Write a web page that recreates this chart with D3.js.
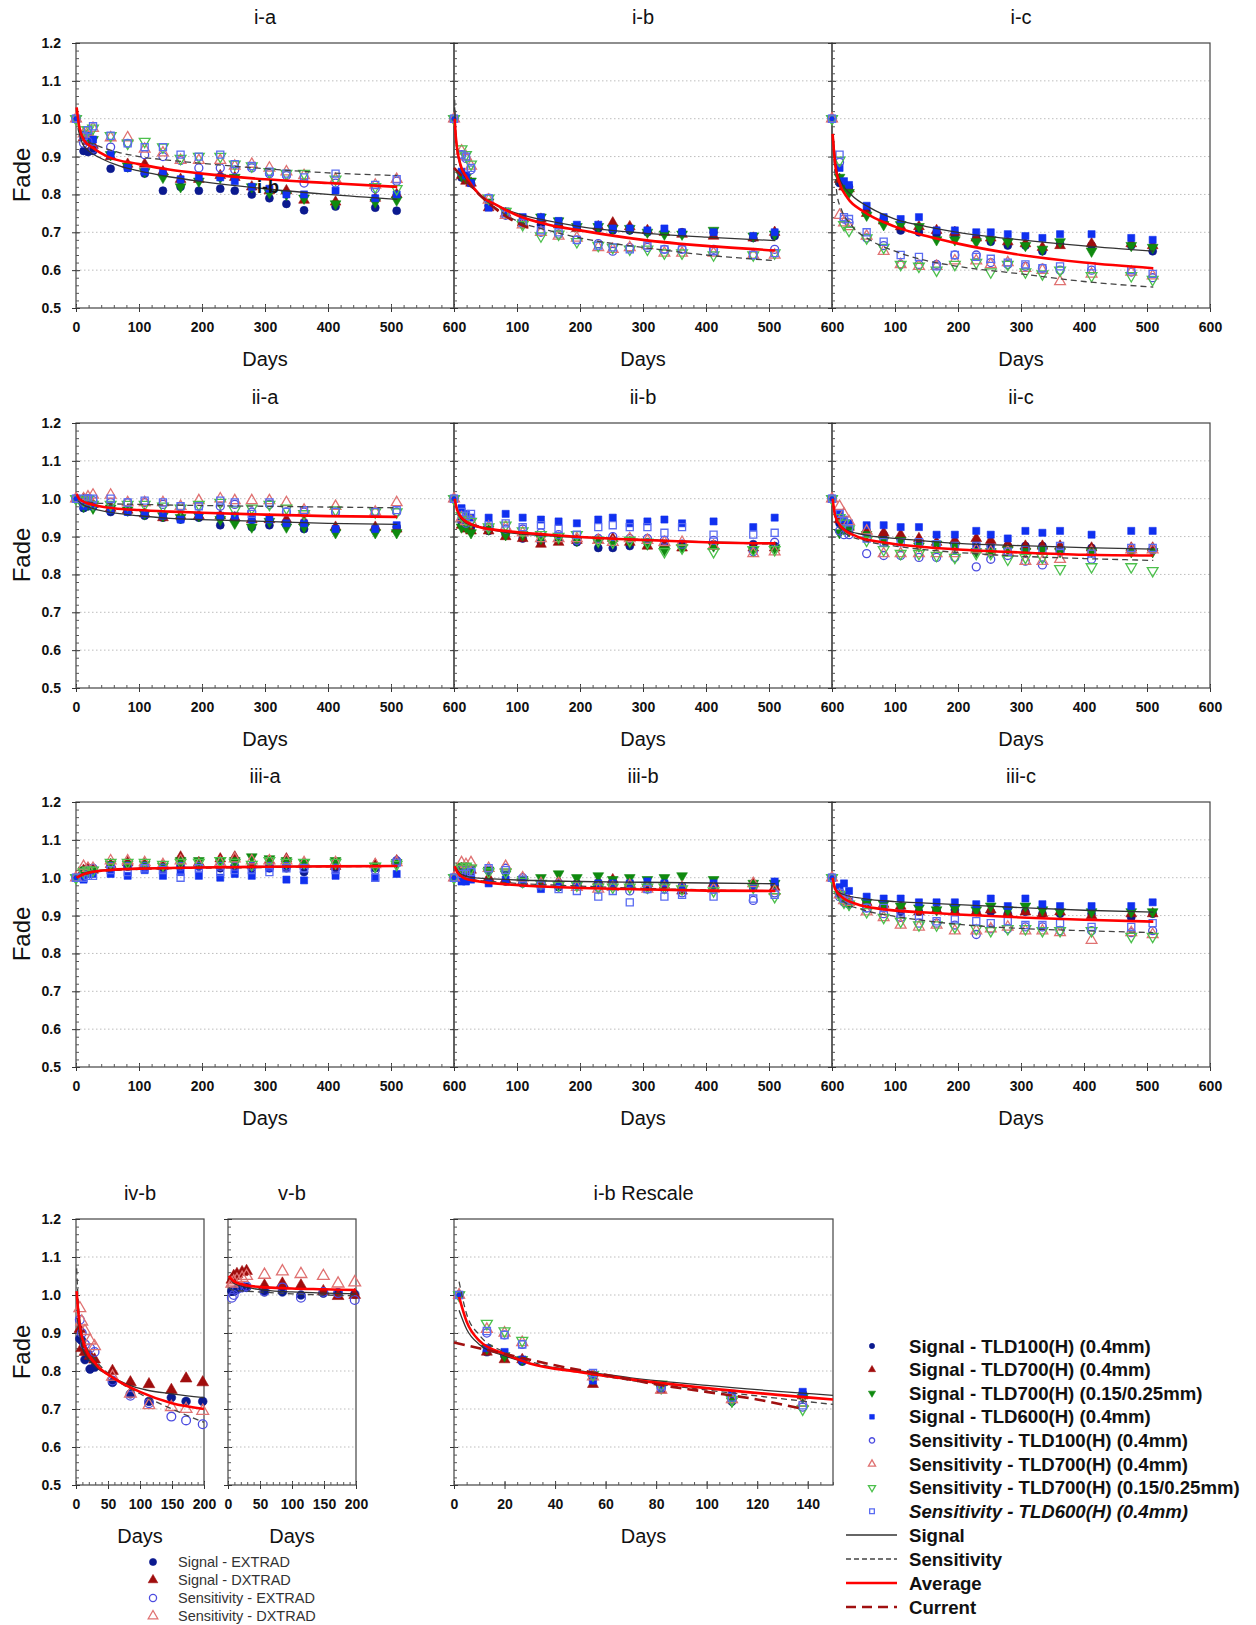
<!DOCTYPE html>
<html>
<head>
<meta charset="utf-8">
<script src="https://cdn.jsdelivr.net/npm/d3@7"></script>
<style>
  body { margin: 0; background: #fff; }
  svg { display: block; font-family: "Liberation Sans", Arial, sans-serif; }
</style>
</head>
<body>
<div id="chart"></div>
<script>
// 1: DATA
const days = [0, 12, 19, 27, 55, 82, 109, 138, 166, 195, 229, 252, 279, 307, 334, 362, 412, 475, 509];
const daysShort = [6, 9, 14, 22, 29, 57, 85, 114, 149, 172, 198];
const daysRescale = [2, 13, 20, 27, 55, 82, 110, 138];

// i-a
const ia_s100  = [1.0,.915,.912,.915,.868,.87,.855,.81,.82,.81,.815,.81,.80,.79,.775,.758,.768,.765,.757];
const ia_s700  = [1.0,.95,.94,.93,.90,.88,.88,.86,.84,.84,.85,.845,.82,.81,.81,.785,.78,.79,.80];
const ia_s700t = [1.0,.96,.95,.945,.905,.875,.86,.845,.82,.835,.845,.845,.82,.805,.80,.79,.775,.78,.785];
const ia_s600  = [1.0,.955,.955,.945,.905,.87,.86,.86,.84,.845,.845,.835,.82,.815,.80,.80,.81,.79,.80];
const ia_e100  = [1.0,.935,.94,.92,.925,.935,.905,.90,.89,.87,.87,.865,.87,.855,.85,.83,.83,.815,.835];
const ia_e700  = [1.0,.96,.965,.975,.95,.95,.92,.91,.89,.89,.89,.875,.88,.87,.86,.85,.84,.825,.84];
const ia_e700t = [1.0,.97,.97,.975,.955,.935,.94,.925,.895,.90,.90,.88,.875,.86,.855,.855,.84,.82,.815];
const ia_e600  = [1.0,.955,.97,.98,.955,.935,.925,.925,.905,.90,.905,.88,.875,.86,.855,.845,.855,.825,.84];
const ia_fitSig  = [[3,.975],[10,.935],[20,.915],[40,.895],[70,.875],[100,.862],[150,.846],[200,.834],[300,.815],[400,.80],[510,.787]];
const ia_fitSens = [[3,.985],[10,.955],[20,.94],[40,.925],[70,.91],[100,.90],[150,.89],[200,.882],[300,.868],[400,.857],[510,.85]];
const ia_fitAvg  = [[1,1.03],[5,.98],[12,.945],[25,.925],[50,.90],[100,.88],[150,.865],[200,.855],[300,.84],[400,.83],[510,.82]];

// i-b
const ib_s100  = [1.0,.845,.84,.83,.77,.75,.725,.72,.72,.715,.71,.705,.705,.70,.70,.70,.70,.685,.69];
const ib_s700  = [1.0,.85,.835,.83,.765,.75,.725,.735,.72,.71,.715,.725,.715,.705,.70,.695,.69,.685,.70];
const ib_s700t = [1.0,.85,.845,.835,.78,.755,.725,.74,.73,.715,.715,.71,.71,.70,.695,.695,.705,.69,.695];
const ib_s600  = [1.0,.86,.85,.83,.765,.755,.74,.74,.73,.72,.72,.71,.71,.705,.71,.70,.70,.69,.70];
const ib_e100  = [1.0,.905,.895,.865,.79,.745,.725,.70,.695,.68,.67,.65,.66,.66,.655,.655,.655,.64,.655];
const ib_e700  = [1.0,.915,.90,.875,.785,.745,.72,.70,.69,.685,.66,.655,.66,.665,.645,.645,.645,.64,.64];
const ib_e700t = [1.0,.92,.905,.88,.79,.755,.72,.69,.695,.675,.665,.66,.655,.655,.645,.645,.64,.64,.645];
const ib_e600  = [1.0,.905,.90,.87,.79,.75,.725,.705,.70,.68,.665,.66,.655,.665,.655,.655,.65,.64,.645];
const ib_fitSig  = [[1,1.03],[3,.95],[10,.875],[20,.84],[40,.80],[70,.77],[100,.75],[150,.73],[200,.715],[300,.698],[400,.687],[510,.678]];
const ib_fitSens = [[1,1.05],[3,.96],[10,.88],[20,.84],[40,.80],[70,.76],[100,.73],[150,.705],[200,.685],[300,.66],[400,.64],[510,.625]];
const ib_fitAvg  = [[1,1.0],[3,.95],[10,.88],[20,.845],[40,.80],[70,.77],[100,.745],[150,.72],[200,.705],[300,.68],[400,.664],[510,.652]];
const ib_fitCur  = [[0,.87],[20,.835],[40,.80],[60,.77],[80,.745],[100,.725],[122,.71]];

// i-c
const ic_s100  = [1.0,.83,.825,.82,.755,.735,.705,.70,.695,.69,.685,.675,.665,.665,.65,.67,.665,.665,.65];
const ic_s700  = [1.0,.84,.82,.815,.75,.73,.715,.715,.705,.70,.685,.685,.675,.67,.66,.665,.67,.67,.665];
const ic_s700t = [1.0,.845,.82,.805,.745,.72,.72,.715,.68,.68,.675,.68,.675,.665,.655,.675,.65,.665,.66];
const ic_s600  = [1.0,.87,.835,.825,.77,.74,.735,.74,.705,.705,.70,.70,.695,.69,.685,.695,.695,.685,.68];
const ic_e100  = [1.0,.885,.735,.725,.685,.665,.615,.615,.615,.64,.64,.62,.615,.61,.605,.60,.60,.595,.58];
const ic_e700  = [1.0,.745,.725,.715,.69,.65,.615,.61,.61,.625,.625,.615,.62,.605,.60,.57,.59,.595,.585];
const ic_e700t = [1.0,.89,.72,.705,.685,.66,.615,.61,.60,.615,.62,.595,.615,.595,.59,.60,.585,.585,.575];
const ic_e600  = [1.0,.905,.74,.735,.70,.675,.64,.635,.61,.64,.635,.63,.62,.615,.605,.61,.61,.60,.59];
const ic_fitSig  = [[2,.95],[8,.86],[15,.83],[30,.80],[60,.765],[100,.735],[150,.715],[200,.70],[300,.68],[400,.664],[510,.65]];
const ic_fitSens = [[2,.92],[8,.80],[15,.76],[30,.72],[60,.68],[100,.65],[150,.625],[200,.61],[300,.59],[400,.57],[510,.555]];
const ic_fitAvg  = [[1,.96],[5,.88],[12,.83],[25,.79],[50,.755],[100,.715],[150,.69],[200,.67],[300,.64],[400,.62],[510,.605]];

// ii-a
const iia_s100  = [1.0,.975,.98,.98,.965,.965,.955,.95,.945,.95,.93,.945,.925,.93,.935,.92,.92,.92,.925];
const iia_s700  = [1.0,1.0,.995,.985,.975,.97,.96,.95,.955,.955,.955,.95,.945,.945,.945,.94,.925,.925,.92];
const iia_s700t = [1.0,.98,.985,.975,.975,.97,.96,.955,.95,.955,.945,.935,.925,.94,.925,.925,.91,.91,.91];
const iia_s600  = [1.0,.98,.985,.98,.97,.965,.96,.955,.945,.955,.955,.955,.945,.945,.935,.935,.92,.92,.93];
const iia_e100  = [1.0,.99,1.0,.995,.99,.99,.99,.985,.98,.98,.98,.985,.965,.985,.965,.965,.965,.965,.965];
const iia_e700  = [1.0,1.0,1.005,1.01,1.01,.99,.99,.99,.98,.995,1.0,.995,.995,.995,.99,.97,.98,.965,.99];
const iia_e700t = [1.0,.995,1.0,.985,.985,.985,.985,.98,.975,.985,.99,.97,.975,.985,.975,.96,.97,.965,.965];
const iia_e600  = [1.0,1.0,1.0,1.0,1.0,.99,.995,.99,.98,.98,.995,.99,.96,.99,.965,.97,.965,.965,.97];
const iia_fitSig  = [[3,.995],[10,.985],[25,.975],[50,.965],[100,.955],[150,.948],[200,.945],[300,.94],[400,.935],[510,.932]];
const iia_fitSens = [[3,1.0],[10,.995],[25,.99],[50,.987],[100,.985],[200,.982],[300,.98],[400,.978],[510,.976]];
const iia_fitAvg  = [[1,1.012],[5,1.0],[15,.99],[30,.983],[60,.975],[100,.97],[150,.966],[200,.963],[300,.958],[400,.954],[510,.952]];

// ii-b
const iib_s100  = [1.0,.94,.935,.925,.915,.905,.895,.885,.89,.885,.87,.87,.875,.885,.875,.88,.88,.88,.875];
const iib_s700  = [1.0,.93,.92,.915,.915,.90,.895,.88,.885,.89,.89,.895,.885,.875,.875,.87,.875,.87,.87];
const iib_s700t = [1.0,.925,.925,.91,.92,.905,.905,.895,.895,.89,.885,.885,.885,.88,.865,.87,.875,.865,.87];
const iib_s600  = [1.0,.975,.96,.95,.95,.96,.95,.945,.94,.935,.945,.95,.935,.94,.945,.935,.94,.925,.95];
const iib_e100  = [1.0,.945,.935,.945,.925,.92,.92,.91,.905,.89,.895,.90,.895,.895,.89,.88,.89,.86,.885];
const iib_e700  = [1.0,.95,.94,.94,.925,.925,.91,.895,.895,.895,.89,.885,.895,.89,.885,.885,.875,.855,.86];
const iib_e700t = [1.0,.955,.945,.94,.925,.93,.915,.905,.90,.905,.89,.885,.89,.885,.86,.87,.86,.865,.865];
const iib_e600  = [1.0,.965,.955,.96,.93,.935,.925,.93,.92,.905,.925,.93,.925,.925,.91,.925,.905,.905,.91];
const iib_fitSig  = [[2,.99],[8,.955],[20,.935],[40,.925],[80,.912],[150,.902],[200,.898],[300,.892],[400,.886],[510,.882]];
const iib_fitSens = [[2,.99],[8,.96],[20,.94],[40,.928],[80,.915],[150,.905],[200,.90],[300,.892],[400,.885],[510,.88]];
const iib_fitAvg  = [[1,1.0],[5,.97],[15,.945],[40,.925],[80,.915],[150,.905],[200,.899],[300,.891],[400,.885],[510,.882]];

// ii-c
const iic_s100  = [1.0,.935,.93,.92,.915,.905,.895,.885,.88,.875,.88,.875,.875,.875,.875,.87,.87,.865,.865];
const iic_s700  = [1.0,.945,.93,.925,.915,.91,.905,.895,.885,.89,.895,.89,.88,.875,.875,.875,.87,.87,.87];
const iic_s700t = [1.0,.91,.92,.915,.905,.89,.89,.875,.88,.875,.86,.86,.865,.86,.865,.86,.86,.86,.86];
const iic_s600  = [1.0,.96,.945,.935,.93,.93,.925,.925,.905,.905,.915,.905,.895,.915,.91,.915,.905,.915,.915];
const iic_e100  = [1.0,.915,.905,.905,.855,.85,.85,.845,.845,.845,.82,.84,.85,.835,.825,.86,.84,.86,.865];
const iic_e700  = [1.0,.98,.96,.94,.915,.855,.855,.855,.855,.855,.865,.86,.86,.835,.835,.84,.86,.865,.865];
const iic_e700t = [1.0,.95,.935,.92,.89,.865,.855,.855,.85,.845,.855,.855,.84,.845,.845,.815,.82,.82,.81];
const iic_e600  = [1.0,.96,.94,.92,.895,.885,.885,.885,.88,.875,.875,.87,.86,.865,.865,.875,.855,.87,.87];
const iic_fitSig  = [[2,.985],[8,.94],[20,.92],[50,.905],[100,.895],[150,.888],[200,.882],[300,.876],[400,.871],[510,.867]];
const iic_fitSens = [[2,.98],[8,.935],[20,.91],[50,.89],[100,.875],[150,.865],[200,.858],[300,.848],[400,.842],[510,.837]];
const iic_fitAvg  = [[1,1.0],[5,.955],[15,.925],[40,.90],[80,.885],[150,.872],[200,.866],[300,.858],[400,.852],[510,.85]];

// iii-a
const iiia_s100  = [1.0,1.02,1.025,1.025,1.03,1.03,1.025,1.025,1.03,1.03,1.025,1.03,1.025,1.025,1.025,1.015,1.025,1.025,1.045];
const iiia_s700  = [1.0,1.02,1.025,1.02,1.035,1.04,1.035,1.03,1.055,1.04,1.05,1.055,1.035,1.045,1.05,1.035,1.03,1.035,1.045];
const iiia_s700t = [1.0,1.02,1.02,1.02,1.035,1.035,1.035,1.03,1.045,1.045,1.045,1.045,1.055,1.05,1.045,1.04,1.045,1.03,1.04];
const iiia_s600  = [1.0,.995,1.01,1.01,1.01,1.005,1.02,1.005,1.015,1.005,1.0,1.01,1.005,1.025,.995,.993,1.005,1.0,1.01];
const iiia_e100  = [1.0,1.015,1.02,1.025,1.03,1.03,1.03,1.025,1.03,1.03,1.03,1.03,1.03,1.03,1.03,1.025,1.025,1.02,1.045];
const iiia_e700  = [1.0,1.03,1.025,1.025,1.045,1.045,1.04,1.035,1.045,1.035,1.04,1.05,1.045,1.045,1.045,1.04,1.04,1.035,1.04];
const iiia_e700t = [1.0,1.015,1.02,1.02,1.04,1.04,1.04,1.035,1.04,1.04,1.045,1.04,1.035,1.045,1.04,1.04,1.04,1.03,1.035];
const iiia_e600  = [1.0,1.0,1.005,1.005,1.02,1.015,1.025,1.02,1.0,1.025,1.015,1.02,1.02,1.015,1.025,1.025,1.02,1.0,1.04];
const iiia_fitSig  = [[1,1.0],[10,1.01],[30,1.018],[60,1.022],[100,1.025],[200,1.028],[300,1.03],[400,1.031],[510,1.032]];
const iiia_fitSens = [[1,1.0],[10,1.006],[30,1.014],[60,1.019],[100,1.022],[200,1.025],[300,1.027],[400,1.029],[510,1.03]];
const iiia_fitAvg  = [[1,1.0],[10,1.008],[25,1.015],[50,1.02],[100,1.024],[200,1.027],[300,1.029],[400,1.03],[510,1.031]];

// iii-b
const iiib_s100  = [1.0,1.005,1.0,1.0,.99,.99,.985,.975,.975,.985,.985,.985,.985,.975,.985,.975,.98,.975,.98];
const iiib_s700  = [1.0,1.025,1.025,1.02,1.0,.995,.99,.99,.99,.985,.99,.995,.985,.985,.98,.965,.985,.985,.975];
const iiib_s700t = [1.0,1.03,1.025,1.025,1.02,1.01,.995,1.0,1.01,1.0,1.005,.995,1.0,.995,1.0,1.005,.995,.985,.985];
const iiib_s600  = [1.0,.99,.99,.995,.985,.995,.99,.97,.98,.98,.985,.985,.985,.99,.985,.975,.985,.975,.99];
const iiib_e100  = [1.0,1.02,1.02,1.02,1.02,1.025,1.0,.985,.985,.98,.975,.98,.965,.97,.97,.96,.97,.94,.96];
const iiib_e700  = [1.0,1.04,1.035,1.04,1.025,1.03,1.0,.985,.985,.975,.97,.975,.98,.97,.975,.975,.97,.985,.965];
const iiib_e700t = [1.0,1.025,1.03,1.025,1.015,1.015,.99,.985,.98,.98,.975,.975,.975,.975,.975,.97,.965,.975,.95];
const iiib_e600  = [1.0,1.01,1.01,1.015,1.025,1.02,.995,.98,.97,.965,.95,.965,.935,.97,.95,.955,.95,.945,.955];
const iiib_fitSig  = [[2,1.03],[10,1.01],[30,1.0],[60,.997],[100,.994],[200,.99],[300,.988],[400,.986],[510,.984]];
const iiib_fitSens = [[2,1.025],[10,1.005],[30,.995],[60,.99],[100,.985],[200,.978],[300,.972],[400,.968],[510,.964]];
const iiib_fitAvg  = [[1,1.03],[5,1.015],[15,1.0],[40,.99],[80,.983],[150,.976],[200,.973],[300,.969],[400,.966],[510,.965]];

// iii-c
const iiic_s100  = [1.0,.96,.945,.935,.935,.925,.91,.91,.915,.915,.91,.91,.905,.91,.905,.905,.905,.895,.905];
const iiic_s700  = [1.0,.965,.95,.94,.935,.93,.925,.91,.915,.91,.91,.915,.905,.91,.905,.91,.90,.905,.905];
const iiic_s700t = [1.0,.955,.94,.93,.935,.93,.925,.92,.915,.92,.915,.925,.915,.925,.915,.91,.91,.91,.91];
const iiic_s600  = [1.0,.975,.985,.965,.95,.945,.945,.935,.935,.935,.93,.945,.925,.945,.93,.925,.925,.925,.935];
const iiic_e100  = [1.0,.95,.935,.93,.92,.905,.895,.88,.88,.875,.85,.865,.865,.87,.87,.86,.86,.855,.86];
const iiic_e700  = [1.0,.955,.94,.935,.91,.895,.875,.87,.875,.86,.86,.865,.87,.86,.86,.855,.835,.855,.85];
const iiic_e700t = [1.0,.955,.935,.93,.91,.895,.885,.875,.875,.87,.865,.86,.865,.865,.86,.86,.86,.845,.845];
const iiic_e600  = [1.0,.96,.945,.94,.92,.92,.905,.90,.885,.89,.885,.88,.885,.875,.875,.88,.87,.87,.88];
const iiic_fitSig  = [[2,.99],[8,.965],[20,.955],[50,.945],[100,.937],[150,.933],[200,.929],[300,.921],[400,.914],[510,.909]];
const iiic_fitSens = [[2,.985],[8,.955],[20,.935],[50,.915],[100,.898],[150,.886],[200,.877],[300,.866],[400,.86],[510,.855]];
const iiic_fitAvg  = [[1,1.0],[5,.97],[15,.95],[40,.93],[80,.917],[150,.908],[200,.903],[300,.895],[400,.889],[510,.884]];

// iv-b (EXTRAD / DXTRAD)
const ivb_sigEx  = [.885,.88,.83,.805,.81,.77,.74,.72,.73,.72,.72];
const ivb_sigDx  = [.91,.86,.85,.84,.83,.80,.77,.765,.75,.78,.77];
const ivb_sensEx = [.935,.90,.87,.86,.85,.775,.735,.715,.68,.67,.66];
const ivb_sensDx = [.965,.93,.905,.88,.865,.785,.74,.71,.705,.70,.695];
const ivb_fitSig  = [[2,.94],[10,.86],[25,.82],[50,.79],[80,.765],[110,.75],[150,.74],[200,.73]];
const ivb_fitSens = [[1,1.07],[5,.95],[15,.87],[30,.83],[60,.78],[100,.74],[150,.70],[200,.665]];
const ivb_fitAvg  = [[1,1.01],[5,.93],[15,.86],[30,.82],[60,.78],[100,.745],[150,.715],[200,.70]];

// v-b
const vb_sigEx  = [1.01,1.01,1.015,1.02,1.02,1.008,1.008,1.0,1.005,1.005,1.002];
const vb_sigDx  = [1.04,1.05,1.055,1.06,1.063,1.025,1.03,1.025,1.01,.997,1.0];
const vb_sensEx = [.993,1.0,1.015,1.02,1.023,1.01,1.02,.993,1.008,1.005,.987];
const vb_sensDx = [1.03,1.035,1.04,1.045,1.05,1.053,1.062,1.055,1.05,1.03,1.033];
const vb_fitSig  = [[1,1.05],[10,1.03],[30,1.02],[60,1.012],[100,1.008],[150,1.005],[200,1.003]];
const vb_fitSens = [[1,1.02],[10,1.012],[30,1.01],[60,1.007],[100,1.003],[150,1.0],[200,.998]];
const vb_fitAvg  = [[1,1.05],[10,1.035],[30,1.025],[60,1.02],[100,1.017],[150,1.015],[200,1.013]];

// i-b Rescale
const rs_s100  = [1.0,.85,.84,.825,.78,.755,.72,.74];
const rs_s700  = [1.0,.85,.83,.83,.765,.75,.725,.735];
const rs_s700t = [1.0,.86,.84,.83,.78,.755,.72,.73];
const rs_s600  = [1.0,.86,.85,.83,.775,.76,.74,.745];
const rs_e100  = [1.0,.90,.895,.87,.79,.755,.725,.705];
const rs_e700  = [1.0,.91,.90,.875,.785,.75,.725,.715];
const rs_e700t = [1.0,.925,.905,.88,.79,.765,.725,.70];
const rs_e600  = [1.0,.905,.895,.87,.795,.76,.73,.71];
const rs_fitSig  = [[2,.96],[5,.91],[10,.87],[20,.84],[30,.82],[50,.80],[70,.782],[100,.762],[150,.736]];
const rs_fitSens = [[2,1.035],[5,.95],[10,.895],[20,.85],[30,.825],[50,.797],[70,.775],[100,.75],[150,.712]];
const rs_fitAvg  = [[2,.995],[5,.93],[10,.88],[20,.845],[30,.82],[50,.797],[70,.778],[100,.755],[150,.725]];
const rs_fitCur  = [[0,.875],[20,.845],[40,.815],[60,.79],[80,.765],[100,.745],[120,.725],[138,.70]];

const legendTLD = ["Signal - TLD100(H) (0.4mm)", "Signal - TLD700(H) (0.4mm)", "Signal - TLD700(H) (0.15/0.25mm)",
  "Signal - TLD600(H) (0.4mm)", "Sensitivity - TLD100(H) (0.4mm)", "Sensitivity - TLD700(H) (0.4mm)",
  "Sensitivity - TLD700(H) (0.15/0.25mm)", "Sensitivity - TLD600(H) (0.4mm)"];
const legendLines = ["Signal", "Sensitivity", "Average", "Current"];
const legendXtrad = ["Signal - EXTRAD", "Signal - DXTRAD", "Sensitivity - EXTRAD", "Sensitivity - DXTRAD"];
const yTicks = [0.5, 0.6, 0.7, 0.8, 0.9, 1.0, 1.1, 1.2];

// 2: STYLES
const tldStyle = [
  { shape: "circle", color: "#0b1a8f", open: false },
  { shape: "up",     color: "#a00d0d", open: false },
  { shape: "down",   color: "#0f8a0f", open: false },
  { shape: "square", color: "#1030f0", open: false },
  { shape: "circle", color: "#4c4ce0", open: true },
  { shape: "up",     color: "#e07272", open: true },
  { shape: "down",   color: "#4cc04c", open: true },
  { shape: "square", color: "#5a6cf2", open: true }
];
const xtradStyle = [tldStyle[0], tldStyle[1], tldStyle[4], tldStyle[5]];
const lineStyle = {
  sig:  { stroke: "#333", width: 1.3, dash: null },
  sens: { stroke: "#444", width: 1.3, dash: "6,4" },
  avg:  { stroke: "#ff0000", width: 2.6, dash: null },
  cur:  { stroke: "#a01010", width: 2.6, dash: "11,6" }
};

const svg = d3.select("#chart").append("svg")
  .attr("width", 1256).attr("height", 1625);

function symbolPath(shape, size) {
  const type = shape === "circle" ? d3.symbolCircle : shape === "square" ? d3.symbolSquare : d3.symbolTriangle;
  return d3.symbol().type(type).size(size)();
}

function drawMarker(g, st, cx, cy, size) {
  g.append("path")
    .attr("d", symbolPath(st.shape, size))
    .attr("transform", `translate(${cx},${cy})` + (st.shape === "down" ? " rotate(180)" : ""))
    .attr("fill", st.open ? "none" : st.color)
    .attr("stroke", st.color)
    .attr("stroke-width", st.open ? 1.3 : 0.6);
}

// 3: PANEL DRAWING
function drawPanel(p) {
  const g = svg.append("g").attr("transform", `translate(${p.x},${p.y})`);
  const x = d3.scaleLinear().domain(p.xDomain).range([0, p.w]);
  const y = d3.scaleLinear().domain([0.5, 1.2]).range([p.h, 0]);

  // dotted grid
  g.selectAll(".grid").data([0.6, 0.7, 0.8, 0.9, 1.0, 1.1]).join("line")
    .attr("x1", 0).attr("x2", p.w)
    .attr("y1", d => y(d)).attr("y2", d => y(d))
    .attr("stroke", "#bdbdbd").attr("stroke-width", 1).attr("stroke-dasharray", "1.5,2.5");

  // frame
  g.append("rect").attr("width", p.w).attr("height", p.h)
    .attr("fill", "none").attr("stroke", "#444").attr("stroke-width", 1.2);

  // y axis: major ticks crossing, minor ticks inside
  const yMajor = g.append("g").attr("transform", "translate(4,0)")
    .call(d3.axisLeft(y).tickValues(yTicks).tickSize(8).tickPadding(7)
      .tickFormat(p.yLabels ? d3.format(".1f") : () => ""));
  yMajor.select(".domain").remove();
  yMajor.selectAll("line").attr("stroke", "#333");
  yMajor.selectAll("text").attr("font-size", 14).attr("font-weight", "bold").attr("fill", "#111")
    .attr("dx", -4);
  const yMinor = g.append("g").call(d3.axisRight(y).tickValues(d3.range(0.52, 1.2, 0.02)).tickSize(3).tickFormat(""));
  yMinor.select(".domain").remove();
  yMinor.selectAll("line").attr("stroke", "#555");

  // x axis
  const xMajor = g.append("g").attr("transform", `translate(0,${p.h - 4})`)
    .call(d3.axisBottom(x).tickValues(p.xTicks).tickSize(8).tickPadding(7)
      .tickFormat(d => (p.skipZero && d === 0) ? "" : d));
  xMajor.select(".domain").remove();
  xMajor.selectAll("line").attr("stroke", "#333");
  xMajor.selectAll("text").attr("font-size", 14).attr("font-weight", "bold").attr("fill", "#111")
    .attr("dy", "0.9em");
  const xMinor = g.append("g").attr("transform", `translate(0,${p.h})`)
    .call(d3.axisTop(x).tickValues(d3.range(p.xDomain[0], p.xDomain[1] + 0.01, p.xMinor)).tickSize(3).tickFormat(""));
  xMinor.select(".domain").remove();
  xMinor.selectAll("line").attr("stroke", "#555");

  // markers
  p.series.forEach((vals, i) => {
    vals.forEach((v, j) => drawMarker(g, p.styles[i], x(p.days[j]), y(v), p.markerSize));
  });

  // fitted curves
  const line = d3.line().x(d => x(d[0])).y(d => y(d[1])).curve(d3.curveMonotoneX);
  p.fits.forEach(f => {
    const st = lineStyle[f.kind];
    g.append("path").datum(f.pts)
      .attr("d", line)
      .attr("fill", "none")
      .attr("stroke", st.stroke)
      .attr("stroke-width", st.width)
      .attr("stroke-dasharray", st.dash);
  });

  // title and axis label
  g.append("text").attr("x", p.w / 2).attr("y", -19).attr("text-anchor", "middle")
    .attr("font-size", 20).attr("fill", "#111").text(p.title);
  g.append("text").attr("x", p.w / 2).attr("y", p.h + 58).attr("text-anchor", "middle")
    .attr("font-size", 20).attr("fill", "#111").text("Days");
  return { g, x, y };
}

const dataSets = {
  ia: [ia_s100, ia_s700, ia_s700t, ia_s600, ia_e100, ia_e700, ia_e700t, ia_e600],
  ib: [ib_s100, ib_s700, ib_s700t, ib_s600, ib_e100, ib_e700, ib_e700t, ib_e600],
  ic: [ic_s100, ic_s700, ic_s700t, ic_s600, ic_e100, ic_e700, ic_e700t, ic_e600],
  iia: [iia_s100, iia_s700, iia_s700t, iia_s600, iia_e100, iia_e700, iia_e700t, iia_e600],
  iib: [iib_s100, iib_s700, iib_s700t, iib_s600, iib_e100, iib_e700, iib_e700t, iib_e600],
  iic: [iic_s100, iic_s700, iic_s700t, iic_s600, iic_e100, iic_e700, iic_e700t, iic_e600],
  iiia: [iiia_s100, iiia_s700, iiia_s700t, iiia_s600, iiia_e100, iiia_e700, iiia_e700t, iiia_e600],
  iiib: [iiib_s100, iiib_s700, iiib_s700t, iiib_s600, iiib_e100, iiib_e700, iiib_e700t, iiib_e600],
  iiic: [iiic_s100, iiic_s700, iiic_s700t, iiic_s600, iiic_e100, iiic_e700, iiic_e700t, iiic_e600]
};
const fitSets = {
  ia: [ia_fitSig, ia_fitSens, ia_fitAvg], ib: [ib_fitSig, ib_fitSens, ib_fitAvg], ic: [ic_fitSig, ic_fitSens, ic_fitAvg],
  iia: [iia_fitSig, iia_fitSens, iia_fitAvg], iib: [iib_fitSig, iib_fitSens, iib_fitAvg], iic: [iic_fitSig, iic_fitSens, iic_fitAvg],
  iiia: [iiia_fitSig, iiia_fitSens, iiia_fitAvg], iiib: [iiib_fitSig, iiib_fitSens, iiib_fitAvg], iiic: [iiic_fitSig, iiic_fitSens, iiic_fitAvg]
};

const rowTop = [43, 423, 802];
const colLeft = [76, 454, 832];
const gridNames = [["ia", "i-a"], ["ib", "i-b"], ["ic", "i-c"], ["iia", "ii-a"], ["iib", "ii-b"], ["iic", "ii-c"],
  ["iiia", "iii-a"], ["iiib", "iii-b"], ["iiic", "iii-c"]];

gridNames.forEach(([key, title], i) => {
  const r = Math.floor(i / 3), c = i % 3;
  const f = fitSets[key];
  const fits = [{ kind: "sig", pts: f[0] }, { kind: "sens", pts: f[1] }, { kind: "avg", pts: f[2] }];
  if (key === "ib") fits.push({ kind: "cur", pts: ib_fitCur });
  drawPanel({
    x: colLeft[c], y: rowTop[r], w: 378, h: 265, title,
    xDomain: [0, 600], xTicks: d3.range(0, 601, 100), xMinor: 20, skipZero: c > 0,
    yLabels: c === 0, days, series: dataSets[key], styles: tldStyle, markerSize: 50, fits
  });
});

// stray "i-b" label inside panel i-a
svg.append("text").attr("x", 268).attr("y", 193).attr("text-anchor", "middle")
  .attr("font-size", 18).attr("font-weight", "bold").attr("fill", "#111").text("i-b");

// 4: BOTTOM ROW
drawPanel({
  x: 76, y: 1219, w: 128, h: 266, title: "iv-b",
  xDomain: [0, 200], xTicks: [0, 50, 100, 150, 200], xMinor: 10, skipZero: false,
  yLabels: true, days: daysShort, series: [ivb_sigEx, ivb_sigDx, ivb_sensEx, ivb_sensDx], styles: xtradStyle, markerSize: 60,
  fits: [{ kind: "sig", pts: ivb_fitSig }, { kind: "sens", pts: ivb_fitSens }, { kind: "avg", pts: ivb_fitAvg }]
});
drawPanel({
  x: 228, y: 1219, w: 128, h: 266, title: "v-b",
  xDomain: [0, 200], xTicks: [0, 50, 100, 150, 200], xMinor: 10, skipZero: false,
  yLabels: false, days: daysShort, series: [vb_sigEx, vb_sigDx, vb_sensEx, vb_sensDx], styles: xtradStyle, markerSize: 60,
  fits: [{ kind: "sig", pts: vb_fitSig }, { kind: "sens", pts: vb_fitSens }, { kind: "avg", pts: vb_fitAvg }]
});
drawPanel({
  x: 454, y: 1219, w: 379, h: 266, title: "i-b Rescale",
  xDomain: [0, 150], xTicks: d3.range(0, 141, 20), xMinor: 5, skipZero: false,
  yLabels: false, days: daysRescale, series: [rs_s100, rs_s700, rs_s700t, rs_s600, rs_e100, rs_e700, rs_e700t, rs_e600],
  styles: tldStyle, markerSize: 52,
  fits: [{ kind: "sig", pts: rs_fitSig }, { kind: "sens", pts: rs_fitSens }, { kind: "avg", pts: rs_fitAvg }, { kind: "cur", pts: rs_fitCur }]
});

// "Fade" labels
[175, 555, 934, 1352].forEach(cy => {
  svg.append("text").attr("transform", `translate(30,${cy}) rotate(-90)`)
    .attr("text-anchor", "middle").attr("font-size", 24).attr("fill", "#111").text("Fade");
});

// 5: LEGENDS
const legR = svg.append("g");
legendTLD.forEach((t, i) => {
  const cy = 1346 + i * 23.6;
  drawMarker(legR, tldStyle[i], 872, cy, 22);
  legR.append("text").attr("x", 909).attr("y", cy + 6.5)
    .attr("font-size", 18.6).attr("font-weight", "bold").attr("fill", "#111")
    .attr("font-style", i === 7 ? "italic" : null).text(t);
});
const lineKeys = ["sig", "sens", "avg", "cur"];
legendLines.forEach((t, i) => {
  const cy = 1535 + i * 24;
  const st = lineStyle[lineKeys[i]];
  legR.append("line").attr("x1", 846).attr("x2", 897).attr("y1", cy).attr("y2", cy)
    .attr("stroke", st.stroke).attr("stroke-width", i >= 2 ? 2.4 : 1.4).attr("stroke-dasharray", st.dash ? (i === 3 ? "10,6" : "5,3") : null);
  legR.append("text").attr("x", 909).attr("y", cy + 6.5)
    .attr("font-size", 18.6).attr("font-weight", "bold").attr("fill", "#111").text(t);
});

const legL = svg.append("g");
legendXtrad.forEach((t, i) => {
  const cy = 1562 + i * 18;
  drawMarker(legL, xtradStyle[i], 153, cy, 40);
  legL.append("text").attr("x", 178).attr("y", cy + 5)
    .attr("font-size", 14.5).attr("fill", "#333").text(t);
});
</script>
</body>
</html>
